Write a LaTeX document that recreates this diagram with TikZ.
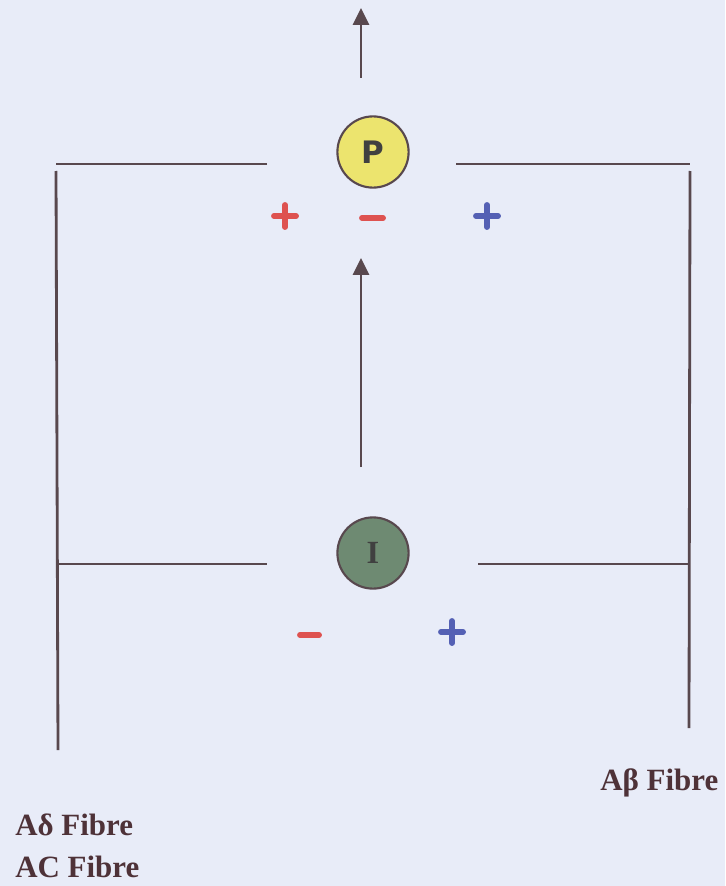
\documentclass[tikz,border=0pt]{standalone}
\usepackage{fontspec}
\setmainfont{Liberation Serif}
\setsansfont{DejaVu Sans}
\usepackage{tikz}
\usetikzlibrary{arrows.meta,positioning}

\definecolor{paper}{RGB}{232,236,248}
\definecolor{ink}{RGB}{88,72,78}
\definecolor{labelink}{RGB}{78,50,56}
\definecolor{cellyellow}{RGB}{236,228,110}
\definecolor{cellgreen}{RGB}{110,138,114}
\definecolor{markred}{RGB}{222,82,80}
\definecolor{markblue}{RGB}{84,96,180}

\begin{document}
\begin{tikzpicture}[
  x=0.025cm, y=-0.025cm,
  >={Triangle[width=0.4cm,length=0.42cm]},
  fibre/.style={draw=ink, line width=2pt},
  signal/.style={draw=ink, line width=1.7pt, ->},
  cell/.style={circle, draw=ink, line width=1.5pt, minimum size=1.78cm, inner sep=0pt, text=black!75},
  signmark/.style={line width=4.2pt, line cap=round},
  fibrelabel/.style={anchor=base west, text=labelink, font=\fontsize{22}{26}\selectfont\bfseries, inner sep=0pt}
]
\fill[paper] (0,0) rectangle (725,886);
\useasboundingbox (0,0) rectangle (725,886);

\node[cell, fill=cellyellow, font=\sffamily\bfseries\fontsize{22}{26}\selectfont] (P) at (373,152) {P};
\node[cell, fill=cellgreen, font=\rmfamily\bfseries\fontsize{23}{26}\selectfont] (I) at (373,553) {I};

% fibre paths
\coordinate (tl) at (56,164);
\coordinate (tlend) at (267,164);
\coordinate (tr) at (690,164);
\coordinate (trstart) at (456,164);
\coordinate (ml) at (57,564);
\coordinate (mlend) at (267,564);
\coordinate (mr) at (689,564);
\coordinate (mrstart) at (478,564);
\coordinate (lbot) at (58,750);
\coordinate (rbot) at (689,728);

\draw[fibre] (tlend) -- (tl);
\draw[fibre] (56,171) -- (lbot);
\draw[fibre] (ml) -- (mlend);
\draw[fibre] (trstart) -- (tr);
\draw[fibre] (690,171) -- (rbot);
\draw[fibre] (mrstart) -- (mr);

% arrows
\coordinate (outbase) at (361,78);
\coordinate (outtip) at (361,8);
\coordinate (inbase) at (361,467);
\coordinate (intip) at (361,258);
\draw[signal] (outbase) -- (outtip);
\draw[signal] (inbase) -- (intip);

% excitatory / inhibitory marks
\draw[signmark, markred] (274,216) -- (296,216) (285,205) -- (285,227);
\draw[signmark, markred] (362,218) -- (383,218);
\draw[signmark, markblue] (476,216) -- (498,216) (487,205) -- (487,227);
\draw[signmark, markred] (300,635) -- (319,635);
\draw[signmark, markblue] (441,632) -- (463,632) (452,621) -- (452,643);

\node[fibrelabel] (adelta) at (15,835) {Aδ Fibre};
\node[fibrelabel] (ac) at (15,877) {AC Fibre};
\node[fibrelabel] (abeta) at (600,790) {Aβ Fibre};
\end{tikzpicture}
\end{document}
